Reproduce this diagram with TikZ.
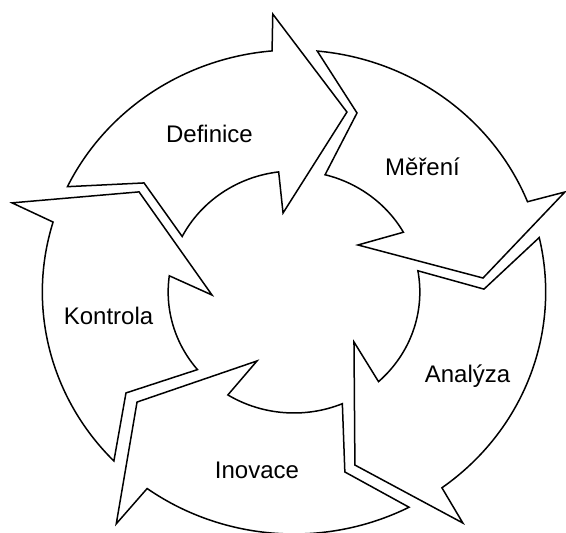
\documentclass[tikz,border=0pt]{standalone}
\usepackage{fontspec}
\setmainfont{Liberation Sans}
\def\Ro{242pt}
\def\Ri{121pt}

\begin{document}
\begin{tikzpicture}[x=1pt,y=1pt]
  \tikzset{%
    cyclearrow/.style={draw=black, fill=white, line width=1.5pt, line join=miter},
    phase/.style={font=\fontsize{24}{28}\selectfont, anchor=base, inner sep=0pt}}

  \fill[white] (0,0) rectangle (566,533);
  \useasboundingbox (0,0) rectangle (566,533);

  \begin{scope}[shift={(294,241)}, xscale=1.04]
    % Definice
    \draw[cyclearrow] (154.2:\Ro) arc[start angle=154.2, end angle=95.0, radius=\Ro] -- (94.2:278.7pt) -- (74.2:187pt) -- (97.6:79.7pt) -- (97.0:\Ri) arc[start angle=97.0, end angle=152.7, radius=\Ri] -- (142.9:180.8pt) -- cycle;
    % Mereni
    \draw[cyclearrow] (84.7:\Ro) arc[start angle=84.7, end angle=21.9, radius=\Ro] -- (21.0:279pt) -- (4.4:182.3pt) -- (37.4:77.4pt) -- (29.6:\Ri) arc[start angle=29.6, end angle=75.7, radius=\Ri] -- (71.3:189pt) -- cycle;
    % Analyza
    \draw[cyclearrow] (13.0:\Ro) arc[start angle=13.0, end angle=-54.0, radius=\Ro] -- (-54.9:282.4pt) -- (-71.3:182.7pt) -- (-40.9:76.3pt) -- (-47.8:\Ri) arc[start angle=-47.8, end angle=10.1, radius=\Ri] -- (0.9:182.7pt) -- cycle;
    % Inovace
    \draw[cyclearrow] (-62.8:\Ro) arc[start angle=-62.8, end angle=-125.7, radius=\Ro] -- (-126.4:288pt) -- (-143.9:186.8pt) -- (-117.3:77.6pt) -- (-121.7:\Ri) arc[start angle=-121.7, end angle=-67.4, radius=\Ri] -- (-74.8:186.5pt) -- cycle;
    % Kontrola
    \draw[cyclearrow] (-135.7:\Ro) arc[start angle=-135.7, end angle=-196.8, radius=\Ro] -- (-198.2:285.4pt) -- (-213.9:179.5pt) -- (-177.8:78.9pt) -- (-187.7:\Ri) arc[start angle=-187.7, end angle=-140.1, radius=\Ri] -- (-148:190.5pt) -- cycle;
  \end{scope}

  \node[phase] (definice) at (209.5,390) {Definice};
  \node[phase] (mereni) at (422.5,357) {Měření};
  \node[phase] (analyza) at (467.5,150) {Analýza};
  \node[phase] (inovace) at (257,54) {Inovace};
  \node[phase] (kontrola) at (108.5,208) {Kontrola};
\end{tikzpicture}
\end{document}
